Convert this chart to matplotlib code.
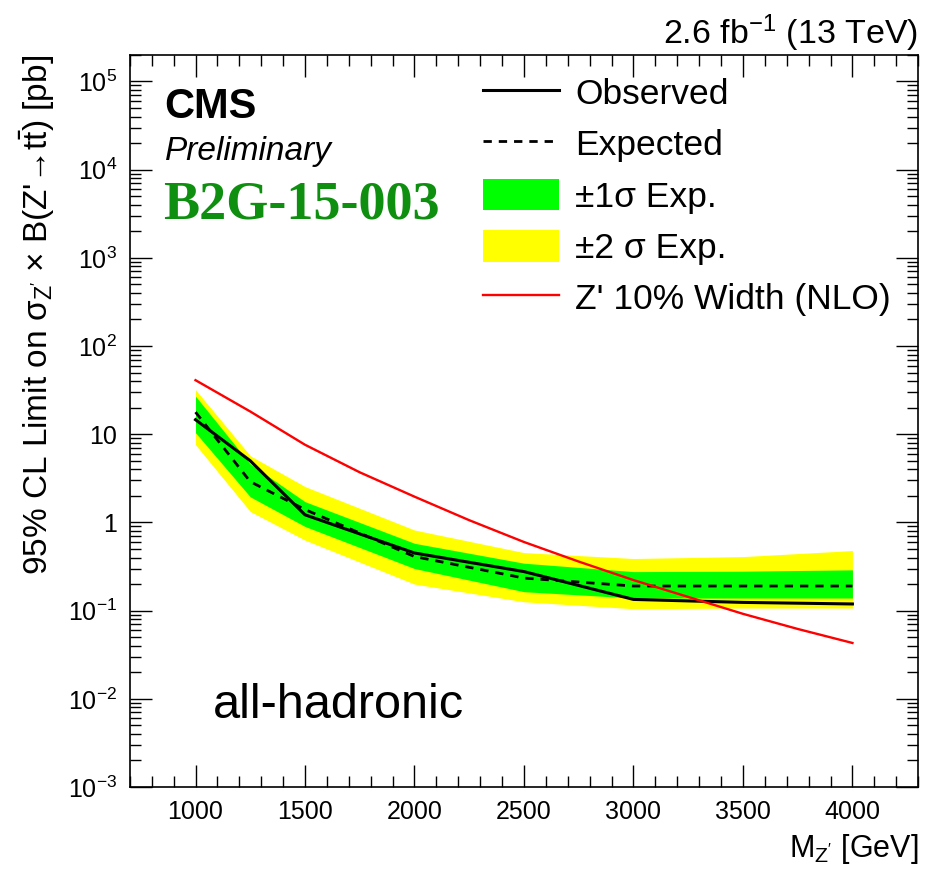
import matplotlib
matplotlib.use("Agg")
import matplotlib.pyplot as plt
from matplotlib.patches import Patch
from matplotlib.lines import Line2D
from matplotlib.ticker import FixedLocator, FixedFormatter, MultipleLocator, LogLocator, NullFormatter

plt.rcParams['font.family'] = ['Liberation Sans', 'DejaVu Sans']
plt.rcParams['mathtext.default'] = 'regular'

# Z' mass points [GeV] and limits [pb]
mass = [1000, 1250, 1500, 2000, 2500, 3000, 3500, 4000]
observed = [14.6, 5.0, 1.22, 0.45, 0.277, 0.134, 0.124, 0.119]
expected = [17.8, 2.9, 1.40, 0.41, 0.234, 0.19, 0.19, 0.19]
exp_1s_lo = [10.4, 1.95, 0.90, 0.30, 0.164, 0.139, 0.139, 0.139]
exp_1s_hi = [27.0, 4.6, 1.72, 0.58, 0.345, 0.277, 0.28, 0.29]
exp_2s_lo = [7.6, 1.33, 0.63, 0.20, 0.126, 0.105, 0.107, 0.107]
exp_2s_hi = [32.0, 5.7, 2.55, 0.82, 0.455, 0.39, 0.41, 0.48]

# theory cross section, Z' with 10% width at NLO
theory_mass = [1000, 1250, 1500, 1750, 2000, 2250, 2500, 2750, 3000, 3250, 3500, 3750, 4000]
theory_xsec = [41.0, 18.1, 7.6, 3.7, 1.96, 1.06, 0.60, 0.36, 0.222, 0.143, 0.092, 0.062, 0.043]

ytick_vals = [1e-3, 1e-2, 1e-1, 1, 10, 1e2, 1e3, 1e4, 1e5]
ytick_labels = ['10$^{-3}$', '10$^{-2}$', '10$^{-1}$', '1', '10',
                '10$^{2}$', '10$^{3}$', '10$^{4}$', '10$^{5}$']
xtick_vals = [1000, 1500, 2000, 2500, 3000, 3500, 4000]

fig = plt.figure(figsize=(9.34, 8.71), dpi=100)
ax = fig.add_axes([0.139, 0.0964, 0.844, 0.8406])

ax.fill_between(mass, exp_2s_lo, exp_2s_hi, color='#ffff00', lw=0, zorder=1)
ax.fill_between(mass, exp_1s_lo, exp_1s_hi, color='#00ff00', lw=0, zorder=2)
ax.plot(mass, expected, color='black', ls=(0, (3, 2.5)), lw=2.0, zorder=3)
ax.plot(mass, observed, color='black', lw=2.2, zorder=4)
ax.plot(theory_mass, theory_xsec, color='red', lw=1.7, zorder=5)

ax.set_yscale('log')
ax.set_xlim(700, 4300)
ax.set_ylim(1e-3, 2e5)

ax.xaxis.set_major_locator(FixedLocator(xtick_vals))
ax.xaxis.set_minor_locator(MultipleLocator(100))
ax.yaxis.set_major_locator(FixedLocator(ytick_vals))
ax.yaxis.set_major_formatter(FixedFormatter(ytick_labels))
ax.yaxis.set_minor_locator(LogLocator(base=10, subs=range(2, 10), numticks=20))
ax.yaxis.set_minor_formatter(NullFormatter())

ax.tick_params(which='both', direction='in', top=True, right=True, width=1.0)
ax.tick_params(which='major', length=16, pad=9, labelsize=18)
ax.tick_params(which='minor', length=8)
for sp in ax.spines.values():
    sp.set_linewidth(1.2)

ax.set_xlabel("M$_{Z'}$ [GeV]", fontsize=22, ha='right', x=1.0)
ax.xaxis.set_label_coords(1.0, -0.062)
ax.set_ylabel("95% CL Limit on σ$_{Z'}$ × B(Z'→t$\\bar{t}$) [pb]", fontsize=24,
              ha='right', y=1.0)
ax.yaxis.set_label_coords(-0.093, 1.0)

fig.text(918 / 934, 1 - 44 / 871, "2.6 fb$^{-1}$ (13 TeV)", fontsize=24.5,
         ha='right', va='baseline')

ax.text(0.044, 0.914, "CMS", transform=ax.transAxes, fontsize=30,
        fontweight='bold', va='baseline')
ax.text(0.044, 0.857, "Preliminary", transform=ax.transAxes, fontsize=24,
        style='italic', va='baseline')
ax.text(0.042, 0.777, "B2G-15-003", transform=ax.transAxes, fontsize=39,
        family='Liberation Serif', fontweight='bold', color='#0f8f0f', va='baseline')
ax.text(0.105, 0.094, "all-hadronic", transform=ax.transAxes, fontsize=35,
        va='baseline')

handles = [
    Line2D([], [], color='black', lw=2.2),
    Line2D([], [], color='black', lw=2.0, ls=(0, (3, 2.5))),
    Patch(facecolor='#00ff00', edgecolor='none'),
    Patch(facecolor='#ffff00', edgecolor='none'),
    Line2D([], [], color='red', lw=1.7),
]
labels = ["Observed", "Expected", "±1σ Exp.", "±2 σ Exp.", "Z' 10% Width (NLO)"]
leg = fig.legend(handles, labels, loc='upper left',
                 bbox_to_anchor=(483 / 934, 1 - 76 / 871),
                 frameon=False, fontsize=25.5, borderpad=0, borderaxespad=0,
                 handlelength=2.15, handleheight=1.0, handletextpad=0.45,
                 labelspacing=0.46)

fig.savefig('out.png', dpi=100)
